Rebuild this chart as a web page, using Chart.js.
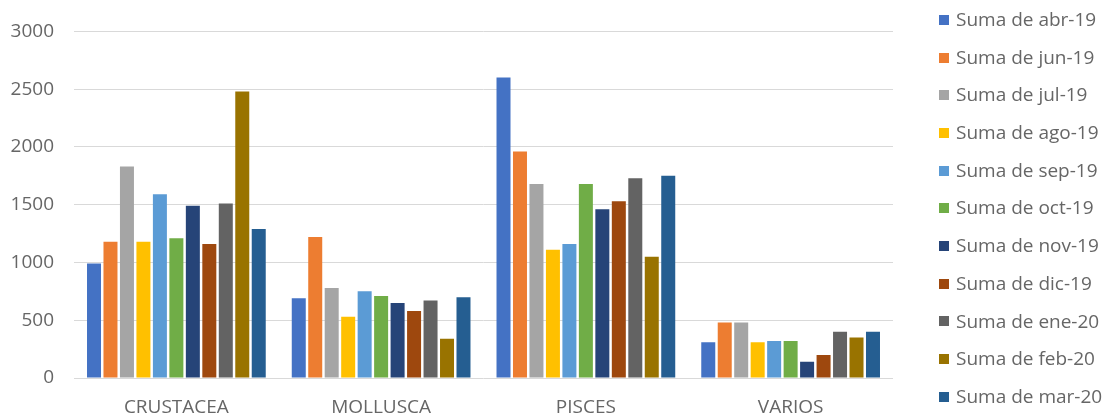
<!DOCTYPE html>
<html>
<head>
<meta charset="utf-8">
<script src="https://cdn.jsdelivr.net/npm/chart.js@4/dist/chart.umd.min.js"></script>
<style>
  html, body { margin: 0; padding: 0; background: #fff; }
  #wrap { position: relative; width: 1108px; height: 419px; }
  #legend {
    position: absolute; left: 939px; top: 1px;
    font-family: "Open Sans", sans-serif; font-size: 19px; color: #666;
  }
  #legend .item { height: 37.7px; line-height: 37.7px; white-space: nowrap; }
  #legend .box { display: inline-block; width: 10px; height: 10px; margin-right: 7px; vertical-align: middle; position: relative; top: -1px; }
</style>
</head>
<body>
<div id="wrap">
  <canvas id="chart" width="1108" height="419"></canvas>
  <div id="legend"></div>
</div>
<script>
// categories and series
const categories = ['CRUSTACEA', 'MOLLUSCA', 'PISCES', 'VARIOS'];
const seriesNames = ['Suma de abr-19', 'Suma de jun-19', 'Suma de jul-19', 'Suma de ago-19',
  'Suma de sep-19', 'Suma de oct-19', 'Suma de nov-19', 'Suma de dic-19',
  'Suma de ene-20', 'Suma de feb-20', 'Suma de mar-20'];
const seriesColors = ['#4472C4', '#ED7D31', '#A5A5A5', '#FFC000', '#5B9BD5', '#70AD47',
  '#264478', '#9E480E', '#636363', '#997300', '#255E91'];

// values per month: [CRUSTACEA, MOLLUSCA, PISCES, VARIOS]
const abr19 = [990, 690, 2600, 310];
const jun19 = [1180, 1220, 1960, 480];
const jul19 = [1830, 780, 1680, 480];
const ago19 = [1180, 530, 1110, 310];
const sep19 = [1590, 750, 1160, 320];
const oct19 = [1210, 710, 1680, 320];
const nov19 = [1490, 650, 1460, 140];
const dic19 = [1160, 580, 1530, 200];
const ene20 = [1510, 670, 1730, 400];
const feb20 = [2480, 340, 1050, 350];
const mar20 = [1290, 700, 1750, 400];

const yTicks = [0, 500, 1000, 1500, 2000, 2500, 3000];

const seriesValues = [abr19, jun19, jul19, ago19, sep19, oct19, nov19, dic19, ene20, feb20, mar20];

const datasets = seriesNames.map((name, i) => ({
  label: name,
  data: seriesValues[i],
  backgroundColor: seriesColors[i],
  borderWidth: 0,
  categoryPercentage: 0.885,
  barPercentage: 0.85
}));

const font = { family: '"Open Sans", sans-serif', size: 19 };

new Chart(document.getElementById('chart'), {
  type: 'bar',
  data: { labels: categories, datasets },
  options: {
    responsive: false,
    animation: false,
    layout: { padding: { left: 0, right: 215, top: 29, bottom: 0 } },
    plugins: {
      legend: { display: false },
      tooltip: { enabled: false }
    },
    scales: {
      x: {
        grid: { display: false, drawTicks: false },
        border: { display: false },
        ticks: { color: '#666', font, padding: 18 },
        afterFit: (scale) => { scale.height = 41; }
      },
      y: {
        min: 0,
        max: 3000,
        afterBuildTicks: (scale) => { scale.ticks = yTicks.map(v => ({ value: v })); },
        grid: { color: '#d9d9d9', lineWidth: 1, drawTicks: false },
        border: { display: false },
        ticks: { color: '#666', font, padding: 20, callback: (v) => String(v) },
        afterFit: (scale) => { scale.width = 74; }
      }
    }
  }
});

// legend built from the same arrays
const legend = document.getElementById('legend');
seriesNames.forEach((name, i) => {
  const item = document.createElement('div');
  item.className = 'item';
  const box = document.createElement('span');
  box.className = 'box';
  box.style.background = seriesColors[i];
  item.appendChild(box);
  item.appendChild(document.createTextNode(name));
  legend.appendChild(item);
});
</script>
</body>
</html>
